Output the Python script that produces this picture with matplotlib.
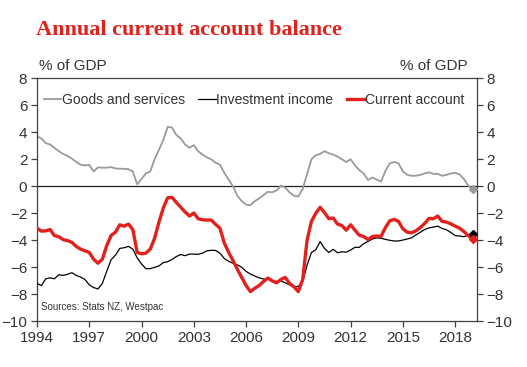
import numpy as np
import matplotlib.pyplot as plt

# quarterly, 1994 to end-2018 (% of GDP, annual totals)
goods_services = [
    3.7, 3.55, 3.2, 3.1, 2.85, 2.6, 2.4, 2.25, 2.05, 1.8, 1.6, 1.55,
    1.58, 1.1, 1.4, 1.38, 1.38, 1.42, 1.33, 1.3, 1.3, 1.27, 1.1, 0.15,
    0.55, 0.95, 1.1, 2.0, 2.7, 3.45, 4.4, 4.35, 3.8, 3.55, 3.1, 2.85,
    3.05, 2.6, 2.35, 2.15, 2.0, 1.75, 1.6, 1.0, 0.5, 0.0, -0.7, -1.1,
    -1.35, -1.4, -1.1, -0.9, -0.65, -0.4, -0.45, -0.3, 0.05, -0.1, -0.45, -0.7,
    -0.75, -0.2, 0.9, 2.0, 2.3, 2.4, 2.6, 2.45, 2.35, 2.2, 2.0, 1.8,
    2.0, 1.55, 1.2, 0.95, 0.47, 0.65, 0.5, 0.35, 1.15, 1.7, 1.8, 1.7,
    1.1, 0.85, 0.78, 0.78, 0.85, 0.95, 1.04, 0.92, 0.93, 0.78, 0.85, 0.95,
    1.0, 0.88, 0.55, 0.05, -0.22,
]
investment_income = [
    -7.2, -7.35, -6.85, -6.78, -6.85, -6.55, -6.6, -6.52, -6.4, -6.6, -6.72, -6.9,
    -7.3, -7.5, -7.6, -7.2, -6.3, -5.45, -5.1, -4.6, -4.55, -4.45, -4.65, -5.3,
    -5.75, -6.1, -6.1, -6.0, -5.9, -5.65, -5.58, -5.42, -5.2, -5.05, -5.14, -5.02,
    -5.02, -5.04, -4.95, -4.78, -4.74, -4.75, -4.95, -5.35, -5.55, -5.7, -5.82, -6.0,
    -6.3, -6.5, -6.65, -6.78, -6.87, -6.87, -7.0, -7.05, -7.01, -7.15, -7.3, -7.44,
    -7.42, -7.05, -5.85, -4.9, -4.7, -4.1, -4.6, -4.9, -4.67, -4.92, -4.85, -4.88,
    -4.72, -4.52, -4.52, -4.25, -4.08, -3.9, -3.82, -3.85, -3.93, -4.0, -4.05, -4.05,
    -3.98, -3.9, -3.82, -3.6, -3.4, -3.2, -3.08, -3.02, -2.95, -3.12, -3.22, -3.42,
    -3.65, -3.68, -3.73, -3.63, -3.56,
]
current_account = [
    -3.1, -3.32, -3.3, -3.2, -3.65, -3.73, -3.95, -4.02, -4.15, -4.45, -4.65, -4.78,
    -4.9, -5.4, -5.7, -5.4, -4.4, -3.65, -3.4, -2.85, -2.95, -2.8, -3.2, -4.9,
    -5.0, -4.95, -4.65, -3.85, -2.65, -1.6, -0.85, -0.82, -1.2, -1.55, -1.9, -2.2,
    -1.98, -2.4, -2.48, -2.5, -2.5, -2.82, -3.1, -4.2, -4.9, -5.5, -6.15, -6.75,
    -7.35, -7.8, -7.55, -7.35, -7.05, -6.8, -7.0, -7.15, -6.9, -6.75, -7.2, -7.45,
    -7.8, -6.9, -4.0, -2.6, -2.0, -1.55, -1.95, -2.4, -2.35, -2.8, -2.9, -3.25,
    -2.85, -3.25, -3.62, -3.72, -3.95, -3.72, -3.68, -3.7, -3.05, -2.55, -2.45, -2.6,
    -3.15, -3.4, -3.44, -3.3, -3.05, -2.75, -2.38, -2.4, -2.2, -2.6, -2.65, -2.78,
    -2.95, -3.1, -3.35, -3.65, -3.93,
]
year_ticks = [1994, 1997, 2000, 2003, 2006, 2009, 2012, 2015, 2018]
y_ticks = [-10, -8, -6, -4, -2, 0, 2, 4, 6, 8]

years = 1994 + 0.25 * np.arange(len(current_account))

RED = '#e3211c'
GREY = '#9a9a9a'
TXT = '#333333'

plt.rcParams['font.family'] = ['Liberation Sans', 'DejaVu Sans']

fig = plt.figure(figsize=(5.27, 3.67), dpi=100)
ax = fig.add_axes([0.0702, 0.1245, 0.8348, 0.6621])

ax.axhline(0, color='#222222', lw=0.9, zorder=1)
ax.plot(years, goods_services, color=GREY, lw=1.3, label='Goods and services', zorder=2)
ax.plot(years, investment_income, color='black', lw=0.9, label='Investment income', zorder=3)
ax.plot(years, current_account, color=RED, lw=2.4, label='Current account', zorder=4)

# end-point markers
ax.plot(years[-1], goods_services[-1], 'D', color=GREY, ms=4.5, zorder=5)
ax.plot(years[-1], investment_income[-1], 'D', color='black', ms=4.5, zorder=5)
ax.plot(years[-1], current_account[-1], 'D', color=RED, ms=4.5, zorder=6)

ax.set_xlim(1994, 2019.25)
ax.set_ylim(-10, 8)
ax.set_xticks(year_ticks)
ax.set_yticks(y_ticks)
ax.tick_params(axis='both', direction='out', length=4, width=0.9, colors='#404040',
               labelcolor=TXT, labelsize=11)
ax.tick_params(axis='y', right=True, labelright=True, pad=3)
ax.tick_params(axis='x', pad=3)
for s in ax.spines.values():
    s.set_color('#404040')
    s.set_linewidth(0.9)

ax.legend(loc='upper left', bbox_to_anchor=(-0.003, 0.975), ncol=3, frameon=False,
          fontsize=10, handlelength=1.25, handletextpad=0.05, columnspacing=0.95,
          labelcolor=TXT, borderaxespad=0.2)

ax.text(0.008, 0.04, 'Sources: Stats NZ, Westpac', transform=ax.transAxes,
        fontsize=7, color=TXT, va='bottom', ha='left')

fig.text(0.074, 0.8, '% of GDP', fontsize=11, color=TXT, va='bottom', ha='left')
fig.text(0.888, 0.8, '% of GDP', fontsize=11, color=TXT, va='bottom', ha='right')

fig.text(0.068, 0.918, 'Annual current account balance', fontsize=16, color=RED,
         fontweight='bold', family=['Liberation Serif', 'DejaVu Serif'],
         va='center', ha='left')

fig.savefig('out.png', dpi=100)
